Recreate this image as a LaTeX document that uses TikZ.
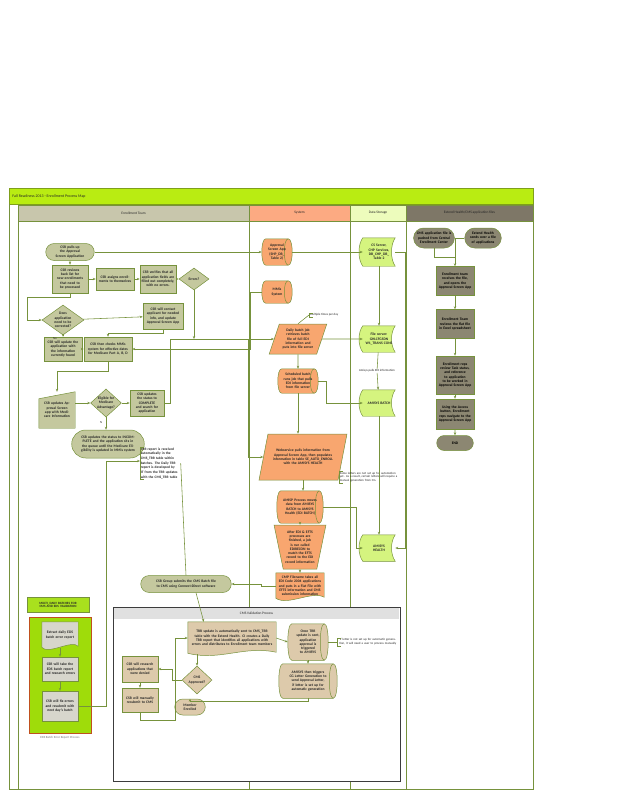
\documentclass[tikz,border=0pt]{standalone}
\usepackage{fontspec}
\setmainfont{Carlito}
\usepackage{tikz}
\usetikzlibrary{arrows.meta,positioning,calc,shapes.geometric,shapes.misc}
\definecolor{fpline}{HTML}{76923C}
\definecolor{fptext}{HTML}{262626}
\definecolor{fphdr}{HTML}{B9EC12}
\definecolor{fphdrline}{HTML}{7F9F1A}
\definecolor{fpethead}{HTML}{C8C6AC}
\definecolor{fpsyshead}{HTML}{FCAA82}
\definecolor{fpdshead}{HTML}{EDFCBC}
\definecolor{fpehhead}{HTML}{7E7767}
\definecolor{fpet}{HTML}{C4C89E}
\definecolor{fpsys}{HTML}{F8A66F}
\definecolor{fpds}{HTML}{D5F47F}
\definecolor{fpeh}{HTML}{8C8772}
\definecolor{fpcms}{HTML}{DDCAAB}
\definecolor{fplime}{HTML}{9FDC0A}
\definecolor{fplabel}{HTML}{A9E01E}
\definecolor{fpred}{HTML}{C0501E}
\definecolor{fpgray}{HTML}{D7D6CC}
\definecolor{fpframe}{HTML}{3C3C3C}
\pgfdeclarelayer{lanes}
\pgfdeclarelayer{shapes}
\pgfsetlayers{lanes,shapes,main}
% outline shapes drawn behind plain nodes
\newcommand{\storedshape}[2]{\filldraw[fill=#2,draw=fpline,line width=0.7pt] (#1.north west) .. controls ($(#1.north west)+(-5,7)$) and ($(#1.south west)+(-5,-7)$) .. (#1.south west) -- (#1.south east) .. controls ($(#1.south east)+(-5,-7)$) and ($(#1.north east)+(-5,7)$) .. (#1.north east) -- cycle;}
\newcommand{\docshape}[2]{\filldraw[fill=#2,draw=fpline,line width=0.7pt] (#1.north west) -- (#1.north east) -- ($(#1.south east)+(0,-2)$) .. controls ($(#1.south)+(12,-9)$) and ($(#1.south)+(-12,7)$) .. ($(#1.south west)+(0,-1)$) -- cycle;}
\newcommand{\maninput}[2]{\filldraw[fill=#2,draw=fpline,line width=0.7pt] ($(#1.north west)+(0,7)$) -- (#1.north east) -- (#1.south east) -- (#1.south west) -- cycle;}
\newcommand{\dbshape}[2]{%
  \filldraw[fill=#2,draw=fpline,line width=0.7pt] ($(#1.north west)+(4,0)$) -- ($(#1.north east)+(-4,0)$) .. controls ($(#1.north east)+(1.3,0)$) and ($(#1.south east)+(1.3,0)$) .. ($(#1.south east)+(-4,0)$) -- ($(#1.south west)+(4,0)$) .. controls ($(#1.south west)+(-1.3,0)$) and ($(#1.north west)+(-1.3,0)$) .. ($(#1.north west)+(4,0)$) -- cycle;
  \draw[fpline,line width=0.7pt] ($(#1.north east)+(-4,0)$) .. controls ($(#1.north east)+(-9.3,0)$) and ($(#1.south east)+(-9.3,0)$) .. ($(#1.south east)+(-4,0)$);}
\newcommand{\bracket}[1]{\draw[draw=fpline,line width=0.6pt] ($(#1.north west)+(4,0)$) -| (#1.south west) -- ++(4,0);}

\begin{document}
\begin{tikzpicture}[x=0.5mm,y=-0.5mm,
  >={Stealth[length=1.5mm,width=1.2mm]},
  base/.style={font=\fontsize{5.2}{6.1}\selectfont\bfseries,text=fptext,align=center,inner sep=1pt,line width=0.7pt},
  etbox/.style={base,rectangle,draw=fpline,fill=fpet},
  etterm/.style={base,rounded rectangle,draw=fpline,fill=fpet},
  etdec/.style={base,diamond,draw=fpline,fill=fpet,inner sep=0pt},
  syspar/.style={base,trapezium,trapezium left angle=65,trapezium right angle=115,trapezium stretches=true,draw=fpline,fill=fpsys},
  bare/.style={base,rectangle},
  ehbox/.style={base,rectangle,draw=fpline,fill=fpeh,text=black},
  ehterm/.style={base,rounded rectangle,draw=fpline,fill=fpeh,text=black},
  cmsbox/.style={base,rectangle,draw=fpline,fill=fpcms},
  cmsterm/.style={base,rounded rectangle,draw=fpline,fill=fpcms},
  cmsdec/.style={base,diamond,draw=fpline,fill=fpcms,inner sep=0pt,aspect=1.1},
  edsbox/.style={base,rectangle,draw=fpline,fill=fpgray},
  note/.style={font=\fontsize{4.4}{5.3}\selectfont,text=fptext,align=left,inner sep=1pt},
  lanehead/.style={font=\fontsize{5}{6}\selectfont,text=fptext,draw=fpline,line width=0.6pt,minimum height=8mm,inner sep=0pt},
  link/.style={draw=fpline,line width=0.8pt},
  lane/.style={draw=fpline,line width=0.8pt}]
\useasboundingbox (0,0) rectangle (638,807);

\begin{pgfonlayer}{lanes}
  \filldraw[fill=fphdr,draw=fphdrline,line width=0.6pt] (9,188) rectangle (533,204);
  \draw[lane] (9,204) -- (9,789) -- (533,789) -- (533,204);
  \draw[lane] (18,205) -- (18,789);
  \draw[lane] (249,221) -- (249,789);
  \draw[lane] (350,221) -- (350,789);
  \draw[lane] (406,221) -- (406,789);
  \filldraw[fill=white,draw=fpframe,line width=1pt] (113,607) rectangle (400,781);
  \fill[black!12] (113.6,607.6) rectangle (399.4,619);
  \filldraw[fill=fplime,draw=fpred,line width=1pt] (29,617) rectangle (91,733);
\end{pgfonlayer}

% header and lanes
\node[anchor=west,font=\fontsize{5.6}{6.5}\selectfont,text=fptext] (ttl) at (10,196) {Fall Readiness 2013 - Enrollment Process Map};
\node[lanehead,fill=fpethead,minimum width=115.5mm] (hdet) at (133.5,213) {Enrollment Team};
\node[lanehead,fill=fpsyshead,minimum width=50.5mm] (hdsys) at (299.5,213) {System};
\node[lanehead,fill=fpdshead,minimum width=28mm] (hdds) at (378,213) {Data Storage};
\node[lanehead,fill=fpehhead,minimum width=63.5mm] (hdeh) at (469.5,213) {Extend Health/CMS application files};
\node[font=\fontsize{5}{6}\selectfont,text=fptext] (cmshdr) at (256.5,613) {CMS Validation Process};

% enrollment team
\node[etterm,minimum width=25mm,minimum height=8.5mm,text width=16mm] (pull) at (70,252) {CSR pulls up the Approval Screen Application};
\node[etbox,minimum width=18mm,minimum height=14mm,text width=16mm] (rev) at (70,279) {CSR reviews back list for new enrollments that need to be processed};
\node[etbox,minimum width=19mm,minimum height=11mm,text width=17mm] (asg) at (115,279) {CSR assigns enrollments to themselves};
\node[etbox,minimum width=18mm,minimum height=14mm,text width=16.5mm] (wrk) at (158,279) {CSR verifies that all application fields are filled out completely, with no errors.};
\node[etdec,aspect=1.4,minimum width=15mm,minimum height=11mm] (err) at (194,279) {Errors?};
\node[etdec,aspect=1.4,minimum width=21mm,minimum height=15mm,text width=10mm] (need) at (63,320) {Does application need to be corrected?};
\node[etbox,minimum width=20mm,minimum height=13mm,text width=18mm] (cont) at (163,316) {CSR will contact applicant for needed info, and update Approval Screen App};
\node[etbox,minimum width=19mm,minimum height=12mm,text width=17mm] (upd) at (63,349) {CSR will update the application with the information currently found};
\node[etbox,minimum width=24mm,minimum height=12mm,text width=22mm] (chk) at (108,349) {CSR then checks MMis system for effective dates for Medicare Part A, B, D};
\node[bare,minimum width=18mm,minimum height=18mm,text width=16.5mm] (man) at (57,410) {CSR updates Approval Screen app with Medicare Information};
\node[etdec,aspect=1.1,minimum width=15mm,minimum height=14mm,text width=9mm] (elig) at (106,403) {Eligible for Medicare Advantage?};
\node[etbox,minimum width=17mm,minimum height=13mm,text width=15mm] (done) at (147,403) {CSR updates the status to COMPLETE and search for application};
\node[etterm,minimum width=37mm,minimum height=14mm,text width=32mm] (inc) at (108,444) {CSR updates the status to INCOMPLETE and the application sits in the queue until the Medicare Eligibility is updated in MMis system};
\node[note,font=\fontsize{5}{6.6}\selectfont\bfseries,anchor=north west,text width=19.5mm] (trrnote) at (140,447) {TRR report is received automatically in the CMS\_TRR table within batches. The Daily TRR report is developed by IT from the TRR updates with the CMS\_TRR table};
\node[etterm,minimum width=46mm,minimum height=8.5mm,text width=40mm] (grp) at (186,584) {CSR Group submits the CMS Batch file to CMS using Connect:Direct software};
\node[note] (nolbl) at (55,339) {No};
\node[note] (nlbl) at (101,423) {N};

% system
\node[bare,minimum width=15mm,minimum height=13mm,text width=10mm] (appr) at (277,252) {Approval Screen App (SHP\_DB\_ Table 2)};
\node[bare,minimum width=15mm,minimum height=11mm,text width=10mm] (mmis) at (277,292) {MMis System};
\node[note,anchor=west] (mult) at (309,315) {Multiple times per day};
\node[syspar,minimum width=28mm,minimum height=15mm,text width=18mm] (daily) at (298,339) {Daily batch job retrieves batch file of full EDI information and puts into file server};
\node[bare,minimum width=20mm,minimum height=12mm,text width=15mm] (sched) at (298,381) {Scheduled batch runs job that pulls EDI information from file server};
\node[syspar,minimum width=44mm,minimum height=23mm,text width=30mm] (web) at (303,457) {Webservice pulls information from Approval Screen App, then populates information in table SE\_AUTO\_ENROLL with the AMISYS HEALTH};
\node[note,anchor=west,text width=30mm] (errn) at (339,477) {Some letters are not set up for automation yet. As a result, certain letters will require a manual generation from CG.};
\node[bare,minimum width=23mm,minimum height=16mm,text width=17mm] (amisp) at (300,507) {AMISP Process moves data from AMISYS BATCH to AMISYS Health (EDI BATCH)};
\node[base,trapezium,shape border rotate=180,trapezium left angle=75,trapezium right angle=75,trapezium stretches=true,draw=fpline,fill=fpsys,minimum width=26mm,minimum height=22mm,text width=16mm] (recon) at (300,547) {After EDI \& EFTS processes are finished, a job is run called EDIRECON to match the EFTS record to the EDI record information};
\node[bare,minimum width=24mm,minimum height=13mm,text width=22mm] (cmp) at (300,586) {CMP Filename takes all EDI Code 2004 applications and puts in a Flat File with EFTS information and CMS submission information};

% data storage
\node[bare,minimum width=16mm,minimum height=14mm,text width=13mm] (css) at (379,252) {CS Server, CHP Services, DB\_CHP\_DB\_ Table 2};
\node[bare,minimum width=16mm,minimum height=13mm,text width=14mm] (fs) at (379,339) {File server: GHLCFGSDN W1\_TRANS CONS};
\node[note,fill=white,inner sep=0.5pt] (pulln) at (377,371) {Amisys pulls EDI information};
\node[bare,minimum width=16mm,minimum height=13mm,text width=12mm] (ab) at (379,403) {AMISYS BATCH};
\node[bare,minimum width=16mm,minimum height=13mm,text width=12mm] (ah) at (379,548) {AMISYS HEALTH};

% extend health / cms files
\node[ehterm,minimum width=20mm,minimum height=10mm,text width=18mm] (cmsf) at (434,238) {CMS application file is pushed from Central Enrollment Center};
\node[ehterm,minimum width=19mm,minimum height=10mm,text width=16mm] (ehf) at (483,238) {Extend Health sends over a file of applications};
\node[ehbox,minimum width=19mm,minimum height=14.5mm,text width=17mm] (e1) at (455,281) {Enrollment team receives the file, and opens the Approval Screen App};
\node[ehbox,minimum width=19mm,minimum height=14.5mm,text width=17mm] (e2) at (455,324) {Enrollment Team reviews the flat file in Excel spreadsheet};
\node[ehbox,minimum width=19mm,minimum height=19mm,text width=17mm] (e3) at (455,375) {Enrollment reps review Task status, and reference to application to be worked in Approval Screen App};
\node[ehbox,minimum width=19mm,minimum height=15mm,text width=17mm] (e4) at (455,414) {Using the Access button, Enrollment reps navigate to the Approval Screen App};
\node[ehterm,minimum width=19mm,minimum height=7.5mm] (fin) at (455,443) {END};
\coordinate (ehjoin) at (455,257);

% cms validation
\node[bare,minimum width=44mm,minimum height=16mm,text width=42mm] (trrupd) at (232,638) {TRR update is automatically sent to CMS\_TRR table with the Extend Health. CI creates a Daily TRR report that identifies all applications with errors and distributes to Enrollment team members};
\node[bare,minimum width=20mm,minimum height=18mm,text width=13mm] (once) at (308,642) {Once TRR update is sent, application approval is triggered to AMISYS};
\node[note,anchor=west,text width=30mm,align=center] (letn) at (337,642) {If letter is not set up for automatic generation, it will need a user to process manually};
\node[bare,minimum width=29mm,minimum height=17mm,text width=23mm] (amtr) at (308,681) {AMISYS then triggers CG Letter Generation to send Approval Letter, if letter is set up for automatic generation};
\node[cmsdec,minimum width=15mm,minimum height=14mm,text width=9mm] (appd) at (197,680) {CMS Approved?};
\node[cmsterm,minimum width=16mm,minimum height=8mm,text width=12mm] (mem) at (190,707) {Member Enrolled};
\node[cmsbox,minimum width=18mm,minimum height=13mm,text width=16mm] (res) at (140,669) {CSR will research applications that were denied};
\node[cmsbox,minimum width=18mm,minimum height=12mm,text width=16mm] (rsb) at (140,700) {CSR will manually resubmit to CMS};

% eds batch error report
\node[base,font=\fontsize{4.6}{5.4}\selectfont\bfseries,fill=fplabel,draw=fpline,minimum width=31mm,minimum height=7.5mm,text width=29mm] (mdlbl) at (58,605) {MULTI\_DAILY BATCHES FOR CMS AND EDS VALIDATION};
\node[bare,minimum width=18mm,minimum height=13mm,text width=15mm] (eds) at (60,635) {Extract daily EDS batch error report};
\node[edsbox,minimum width=18mm,minimum height=12mm,text width=16mm] (tk) at (60,669) {CSR will take the EDS batch report and research errors};
\node[edsbox,minimum width=18mm,minimum height=15mm,text width=16mm] (fix) at (60,706) {CSR will fix errors and resubmit with next day's batch};
\node[note,text=black!55] (edscap) at (60,738) {EDS Batch Error Report Process};

\begin{pgfonlayer}{shapes}
  \dbshape{appr}{fpsys}
  \dbshape{mmis}{fpsys}
  \dbshape{sched}{fpsys}
  \dbshape{amisp}{fpsys}
  \dbshape{once}{fpcms}
  \dbshape{amtr}{fpcms}
  \storedshape{css}{fpds}
  \storedshape{fs}{fpds}
  \storedshape{ab}{fpds}
  \storedshape{ah}{fpds}
  \docshape{cmp}{fpsys}
  \docshape{trrupd}{fpcms}
  \docshape{eds}{fpgray}
  \maninput{man}{fpet}
\end{pgfonlayer}
\bracket{trrnote}
\bracket{mult}
\bracket{errn}
\bracket{letn}

% enrollment flow
\draw[link,->] (pull.east) -- (appr.west);
\draw[link,->] (pull) -- (rev);
\draw[link,->] (rev) -- (asg);
\draw[link,->] (asg) -- (wrk);
\draw[link,->] (wrk) -- (err);
\draw[link,->] (rev.south) -- ++(0,4) -| ($(need.west)+(-14,0)$) -- (need.west);
\draw[link,->] (need) -- (cont);
\draw[link,->] (need) -- (upd);
\draw[link,->] (cont.south) -- ++(0,4) -| (chk.north);
\draw[link,->] (upd) -- (chk);
\draw[link,->] (mmis.west) -- ++(-11,0) |- (chk.east);
\draw[link,->] (chk.south) -- ++(0,10) -| (man.north);
\draw[link,->] (elig.west -| man.east) -- (elig.west);
\draw[link,->] (elig) -- (done);
\draw[link,->] (elig.south) -- (elig.south |- inc.north);
\draw[link,->] (err.south) -- (err.south |- daily.west);
\draw[link,->] (done.east) -- ++(6,0) |- (daily.west);
\path (daily.west) ++(-26,0) coordinate (webtap);
\draw[link,->] (webtap) |- (web.west);
\draw[link] (trrnote.east) -- (grp.north);
\draw[link,->] (fix.east) -- ++(28,0) |- ($(trrnote.north west)+(0,14)$);
\draw[link,->] ($(grp.south)+(10,0)$) -- ($(trrupd.north west)+(16,0)$);
\draw[link,->] (cmp.west) -- ++(-14,0) |- (grp.east);

% system and storage flow
\draw[link,->] (appr) -- (css);
\draw[link] (mult.west) -- (daily.north);
\draw[link,->] (daily) -- (fs);
\draw[link,->] (daily) -- (sched);
\draw[link,->] (sched.east) -- ++(8,0) |- (ab.west);
\draw[link,->] (sched.south) -- (sched.south |- web.north);
\draw[link,->] (web.south) -- (web.south |- amisp.north);
\draw[link,->] (amisp) -- (recon);
\draw[link,->] (recon) -- (cmp);
\draw[link,->] (amisp.east) -- ++(33,0) |- (ah.west);
\draw[link,->] (css) -- (fs);
\draw[link,->] (fs) -- (pulln) -- (ab);
\draw[link,->] (ab) -- (ah);
\draw[link,->] (css.east) -- ++(10,0) |- (ah.east);

% extend health flow
\draw[link] (cmsf.south) |- (ehjoin);
\draw[link] (ehf.west) -| (ehjoin);
\draw[link,->] (ehjoin) -- (e1.north);
\draw[link,->] (e1) -- (e2);
\draw[link,->] (e2) -- (e3);
\draw[link,->] (e3) -- (e4);
\draw[link,->] (e4) -- (fin);

% cms validation flow
\draw[link,->] (trrupd.east) -- (once.west);
\draw[link,->] (once) -- (amtr);
\draw[link] (letn.west) -- (once.east);
\draw[link,->] (amtr.south) -- ++(0,3) -| (mem.north);
\draw[link,->] (trrupd.south -| appd.north) -- (appd.north);
\draw[link,->] (appd.west) -- ++(-9,0) |- (res.east);
\draw[link,->] (res) -- (rsb);
\draw[link,->] (rsb.south) -- ++(0,8) -| ($(trrupd.west)+(-12,0)$) -- (trrupd.west);
\draw[link,->] (eds) -- (tk);
\draw[link,->] (tk) -- (fix);
\end{tikzpicture}
\end{document}
